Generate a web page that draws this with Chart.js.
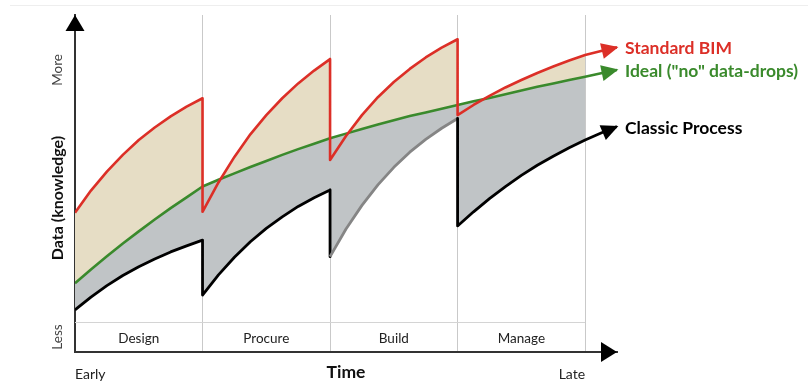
<!DOCTYPE html>
<html>
<head>
<meta charset="utf-8">
<title>Data (knowledge) over time</title>
<script src="https://cdn.jsdelivr.net/npm/chart.js@4.4.1/dist/chart.umd.min.js"></script>
<style>
  html, body { margin: 0; padding: 0; background: #fff; }
  #wrap { position: relative; width: 808px; height: 382px; }
</style>
</head>
<body>
<div id="wrap"><canvas id="chart"></canvas></div>
<script>
// Project phases along the time axis and the hand-over points between them
const phases = ['Design', 'Procure', 'Build', 'Manage'];
const phaseBoundaries = [1, 2, 3, 4];
const timeEnds = ['Early', 'Late'];
const levelEnds = ['Less', 'More'];
const seriesNames = ['Standard BIM', 'Ideal ("no" data-drops)', 'Classic Process'];

// Time in phase units; a repeated value is the data-drop at a hand-over
const timeSteps = [
  0, 0.125, 0.25, 0.375, 0.5, 0.625, 0.75, 0.875, 1,
  1, 1.125, 1.25, 1.375, 1.5, 1.625, 1.75, 1.875, 2,
  2, 2.125, 2.25, 2.375, 2.5, 2.625, 2.75, 2.875, 3,
  3, 3.125, 3.25, 3.375, 3.5, 3.625, 3.75, 3.875, 4, 4.125, 4.25
];

// Knowledge level (0 = less, 100 = more)
const standardBim = [
  41.3, 47.9, 53.5, 58.5, 62.9, 66.6, 69.9, 72.8, 75.3,
  41.6, 50.3, 57.9, 64.6, 70.3, 75.3, 79.7, 83.5, 86.9,
  57.0, 64.1, 70.3, 75.6, 80.1, 84.0, 87.4, 90.3, 92.8,
  70.3, 73.3, 76.0, 78.5, 80.7, 82.8, 84.7, 86.5, 88.1, 89.3, 90.4
];
const idealFlow = [
  20.4, 24.5, 28.4, 32.2, 35.8, 39.3, 42.7, 45.9, 49.1,
  49.1, 51.1, 53.0, 54.9, 56.7, 58.5, 60.2, 61.8, 63.4,
  63.4, 64.8, 66.2, 67.5, 68.8, 70.0, 71.1, 72.2, 73.3,
  73.3, 74.4, 75.4, 76.5, 77.6, 78.7, 79.7, 80.7, 81.7, 82.7, 83.7
];
const classicProcess = [
  12.5, 16.3, 19.7, 22.7, 25.3, 27.6, 29.7, 31.5, 33.2,
  16.9, 22.9, 28.1, 32.7, 36.7, 40.1, 43.2, 45.8, 48.1,
  28.3, 36.5, 43.5, 49.6, 54.8, 59.3, 63.1, 66.4, 69.3,
  37.4, 41.6, 45.5, 49.1, 52.4, 55.4, 58.1, 60.6, 62.9, 65.0, 66.9
];

// Level of the line that separates the phase-name band
const bandLevel = 8.9;

const RED = '#dc2f27';
const GREEN = '#3a8a2c';
const BLACK = '#000000';
const BUILD_GREY = '#858585';
const BEIGE = '#e6ddc5';
const GREY = '#c0c4c6';
const AXIS = '#333333';
const FONT = 'Lato, "Open Sans", sans-serif';

const lastPhase = phaseBoundaries[phaseBoundaries.length - 1];
const toPoints = (ys, limit) =>
  timeSteps.map((x, i) => ({ x, y: ys[i] })).filter(p => p.x <= limit);

const lineSet = (label, ys, color, width) => ({
  label, data: toPoints(ys, Infinity), borderColor: color, borderWidth: width,
  pointRadius: 0, tension: 0, fill: false, borderJoinStyle: 'round'
});
const areaSet = (ys, fill) => ({
  data: toPoints(ys, lastPhase), borderColor: 'rgba(0,0,0,0)', borderWidth: 1,
  pointRadius: 0, tension: 0, fill
});

// Arrow heads, axis arrows and all annotation text
const decorations = {
  id: 'decorations',
  beforeDatasetsDraw(chart) {
    const { ctx, chartArea: a, scales: { x, y } } = chart;
    ctx.save();
    // faint frame line across the top
    ctx.strokeStyle = '#eeeeee';
    ctx.lineWidth = 1;
    ctx.beginPath(); ctx.moveTo(10, 5.5); ctx.lineTo(808, 5.5); ctx.stroke();
    // phase band separator
    ctx.strokeStyle = '#d4d4d4';
    const by = Math.round(y.getPixelForValue(bandLevel)) + 0.5;
    ctx.beginPath(); ctx.moveTo(x.getPixelForValue(0), by);
    ctx.lineTo(x.getPixelForValue(lastPhase), by); ctx.stroke();
    // phase names
    ctx.fillStyle = '#222';
    ctx.font = '13.5px ' + FONT;
    ctx.textAlign = 'center';
    ctx.textBaseline = 'middle';
    const ly = (by + a.bottom) / 2 + 1;
    phases.forEach((p, i) => {
      ctx.fillText(p, x.getPixelForValue(i + 0.5), ly);
    });
    ctx.restore();
  },
  afterDatasetsDraw(chart) {
    const { ctx, chartArea: a } = chart;
    ctx.save();
    // series arrow heads and labels
    const colors = [RED, GREEN, BLACK];
    ctx.font = 'bold 17.5px ' + FONT;
    ctx.textAlign = 'left';
    ctx.textBaseline = 'middle';
    for (let i = 0; i < 3; i++) {
      const pts = chart.getDatasetMeta(i).data;
      const p1 = pts[pts.length - 1], p0 = pts[pts.length - 3];
      const ang = Math.atan2(p1.y - p0.y, p1.x - p0.x);
      const tx = p1.x + Math.cos(ang) * 1.5, ty = p1.y + Math.sin(ang) * 1.5;
      const len = 17, half = 8;
      const bx = tx - Math.cos(ang) * len, byy = ty - Math.sin(ang) * len;
      ctx.fillStyle = colors[i];
      ctx.beginPath();
      ctx.moveTo(tx, ty);
      ctx.lineTo(bx + Math.sin(ang) * half, byy - Math.cos(ang) * half);
      ctx.lineTo(bx - Math.sin(ang) * half, byy + Math.cos(ang) * half);
      ctx.closePath();
      ctx.fill();
      ctx.fillText(seriesNames[i], a.right + 8, p1.y + 1.5);
    }
    // axis arrows
    ctx.fillStyle = '#000';
    ctx.beginPath();
    ctx.moveTo(a.left, a.top);
    ctx.lineTo(a.left - 9.5, a.top + 16);
    ctx.lineTo(a.left + 9.5, a.top + 16);
    ctx.closePath(); ctx.fill();
    ctx.beginPath();
    ctx.moveTo(a.right, a.bottom);
    ctx.lineTo(a.right - 16, a.bottom - 10);
    ctx.lineTo(a.right - 16, a.bottom + 10);
    ctx.closePath(); ctx.fill();
    ctx.restore();
  },
  afterDraw(chart) {
    const { ctx, chartArea: a, scales: { x, y } } = chart;
    ctx.save();
    ctx.textBaseline = 'middle';
    // time axis ends and title
    ctx.fillStyle = '#222';
    ctx.font = '14px ' + FONT;
    ctx.textAlign = 'left';
    ctx.fillText(timeEnds[0], x.getPixelForValue(0), 374);
    ctx.textAlign = 'right';
    ctx.fillText(timeEnds[1], x.getPixelForValue(lastPhase), 374);
    ctx.fillStyle = '#111';
    ctx.font = 'bold 17.5px ' + FONT;
    ctx.textAlign = 'center';
    ctx.fillText('Time', (a.left + a.right) / 2, 372);
    // vertical axis ends and title (rotated)
    const vx = 58;
    const rotText = (t, cy, font, color) => {
      ctx.save();
      ctx.translate(vx, cy);
      ctx.rotate(-Math.PI / 2);
      ctx.font = font;
      ctx.fillStyle = color;
      ctx.textAlign = 'center';
      ctx.fillText(t, 0, 0);
      ctx.restore();
    };
    rotText(levelEnds[0], (y.getPixelForValue(bandLevel) + a.bottom) / 2, '13.5px ' + FONT, '#444');
    rotText(levelEnds[1], y.getPixelForValue(83.7), '13.5px ' + FONT, '#444');
    rotText('Data (knowledge)', 198, 'bold 16px ' + FONT, '#111');
    ctx.restore();
  }
};

Chart.defaults.font.family = FONT;

new Chart(document.getElementById('chart'), {
  type: 'line',
  data: {
    datasets: [
      lineSet(seriesNames[0], standardBim, RED, 2.6),
      lineSet(seriesNames[1], idealFlow, GREEN, 2.6),
      Object.assign(lineSet(seriesNames[2], classicProcess, BLACK, 2.8), {
        segment: {
          borderColor: c => (c.p0.parsed.x >= 2 && c.p1.parsed.x <= 3 &&
            c.p0.parsed.x !== c.p1.parsed.x) ? BUILD_GREY : BLACK
        }
      }),
      areaSet(standardBim, { target: 4, above: BEIGE, below: GREY }),
      areaSet(idealFlow, { target: 5, above: GREY, below: GREY }),
      areaSet(classicProcess, false)
    ]
  },
  options: {
    responsive: true,
    maintainAspectRatio: false,
    animation: false,
    events: [],
    layout: { padding: { left: 75, top: 15, right: 191, bottom: 30 } },
    plugins: { legend: { display: false }, tooltip: { enabled: false } },
    scales: {
      x: {
        type: 'linear', min: 0, max: 4.25,
        afterFit: s => { s.height = 0; },
        afterBuildTicks: s => { s.ticks = phaseBoundaries.map(v => ({ value: v })); },
        ticks: { display: false },
        grid: { color: '#c9c9c9', lineWidth: 1, drawTicks: false },
        border: { color: AXIS, width: 2 }
      },
      y: {
        type: 'linear', min: 0, max: 100,
        afterFit: s => { s.width = 0; },
        ticks: { display: false },
        grid: { display: false, drawTicks: false },
        border: { color: AXIS, width: 2 }
      }
    }
  },
  plugins: [decorations]
});
</script>
</body>
</html>
